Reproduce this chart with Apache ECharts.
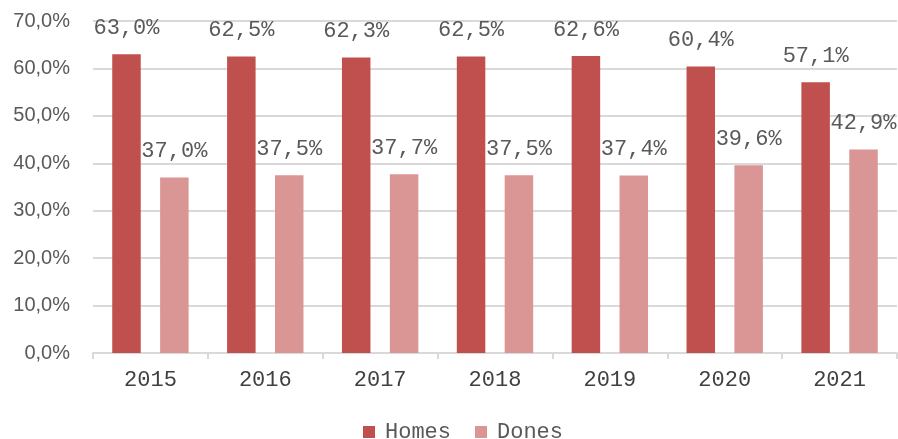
<!DOCTYPE html>
<html>
<head>
<meta charset="utf-8">
<script src="https://cdn.jsdelivr.net/npm/echarts@6/dist/echarts.min.js"></script>
<style>
  html, body { margin: 0; padding: 0; background: #fff; }
  #chart { width: 898px; height: 439px; }
</style>
</head>
<body>
<div id="chart"></div>
<script>
// Share of Homes / Dones per year (%)
const years = ['2015', '2016', '2017', '2018', '2019', '2020', '2021'];
const homes = [63.0, 62.5, 62.3, 62.5, 62.6, 60.4, 57.1];
const dones = [37.0, 37.5, 37.7, 37.5, 37.4, 39.6, 42.9];
const yTicks = [0, 10, 20, 30, 40, 50, 60, 70];

const mono = '"Liberation Mono", "Courier New", monospace';
const sans = '"Liberation Sans", Arial, sans-serif';
const fmtPct = v => v.toFixed(1).replace('.', ',') + '%';

const chart = echarts.init(document.getElementById('chart'));

const labelStyle = {
  show: true,
  position: 'top',
  distance: 15,
  fontFamily: mono,
  fontSize: 22,
  color: '#595959',
  formatter: p => fmtPct(p.value)
};

chart.setOption({
  animation: false,
  grid: { left: 93, right: 1, top: 21, bottom: 86, containLabel: false },
  legend: {
    top: 421,
    left: 363,
    padding: 0,
    itemWidth: 12,
    itemHeight: 12,
    itemGap: 24,
    icon: 'rect',
    textStyle: { fontFamily: mono, fontSize: 22, color: '#595959', padding: [0, 0, 0, 5] },
    data: ['Homes', 'Dones']
  },
  xAxis: {
    type: 'category',
    data: years,
    axisLine: { lineStyle: { color: '#D9D9D9', width: 2 } },
    axisTick: { show: true, length: 6, lineStyle: { color: '#D9D9D9', width: 2 } },
    axisLabel: { fontFamily: mono, fontSize: 22, color: '#404040', margin: 16 }
  },
  yAxis: {
    type: 'value',
    min: yTicks[0],
    max: yTicks[yTicks.length - 1],
    interval: 10,
    axisLine: { show: false },
    axisTick: { show: false },
    splitLine: { lineStyle: { color: '#D9D9D9', width: 2 } },
    axisLabel: { fontFamily: sans, fontSize: 20, color: '#595959', margin: 23, formatter: v => fmtPct(v) }
  },
  series: [
    {
      name: 'Homes',
      type: 'bar',
      data: homes,
      barWidth: 28.5,
      barGap: '68%',
      itemStyle: { color: '#C0504D' },
      label: labelStyle
    },
    {
      name: 'Dones',
      type: 'bar',
      data: dones,
      barWidth: 28.5,
      itemStyle: { color: '#DA9694' },
      label: labelStyle
    }
  ]
});
</script>
</body>
</html>
